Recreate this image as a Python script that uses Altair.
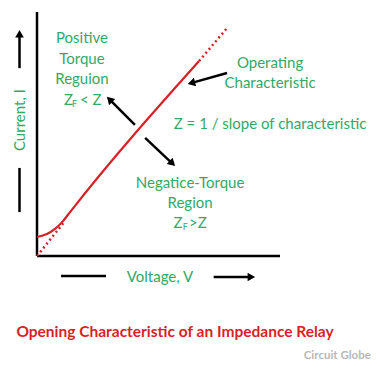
import altair as alt
import pandas as pd
import numpy as np

# ---- data (diagram units: origin at the axes corner, axes run 0..10) ----
# operating characteristic (solid red): curved start, then straight line
char_x = [0.0, 0.41, 0.74, 1.07, 1.36, 6.67]
char_y = [0.78, 0.90, 1.11, 1.43, 1.80, 7.99]
# dotted extensions of the straight line
dot_seg = ["low", "low", "top", "top"]
dot_x = [0.0, 1.15, 6.67, 7.82]
dot_y = [0.0, 1.43, 7.99, 9.34]

# axes
axis_x1 = [0, 0]
axis_y1 = [0, 0]
axis_x2 = [0, 10]
axis_y2 = [10, 0]

# arrows (tail -> tip)
arrow_x1 = [-0.72, 7.27, 7.82, 4.03, 4.45]
arrow_y1 = [7.70, -0.86, 7.50, 5.37, 4.84]
arrow_x2 = [-0.72, 8.97, 6.21, 2.88, 5.68]
arrow_y2 = [9.26, -0.86, 7.05, 6.52, 3.69]

# plain label lines
plain_x1 = [-0.72, 0.99]
plain_y1 = [3.61, -0.82]
plain_x2 = [-0.72, 2.84]
plain_y2 = [1.80, -0.82]

# centered green labels
lab_text = ["Positive", "Torque", "Reguion", "Operating", "Characteristic",
            "Z = 1 / slope of characteristic", "Negatice-Torque", "Region",
            "Voltage, V"]
lab_x = [1.85, 1.85, 1.85, 9.59, 9.59, 9.59, 6.30, 6.30, 5.06]
lab_y = [8.93, 8.07, 7.25, 7.91, 7.09, 5.41, 2.99, 2.17, -0.86]

# Z_F pieces
zf_text = ["Z", "F", "< Z", "Z", "F", ">Z"]
zf_x = [1.11, 1.44, 1.77, 5.62, 6.00, 6.26]
zf_y = [6.39, 6.24, 6.39, 1.35, 1.20, 1.35]
zf_size = [15, 9, 15, 15, 9, 15]

GREEN = "#33a867"
RED = "#d91f26"
FONT = "Lato"

PXX, PXY = 24.3, 24.4
XDOM = [-1.1934, 13.786]
YDOM = [-4.262, 10.164]

xs = alt.Scale(domain=XDOM, nice=False, zero=False)
ys = alt.Scale(domain=YDOM, nice=False, zero=False)
X = lambda f: alt.X(f, type="quantitative", scale=xs, axis=None)
Y = lambda f: alt.Y(f, type="quantitative", scale=ys, axis=None)

char_df = pd.DataFrame({"x": char_x, "y": char_y, "o": range(len(char_x))})
dot_df = pd.DataFrame({"x": dot_x, "y": dot_y, "seg": dot_seg})
axis_df = pd.DataFrame({"x": axis_x1, "y": axis_y1, "x2": axis_x2, "y2": axis_y2})
plain_df = pd.DataFrame({"x": plain_x1, "y": plain_y1, "x2": plain_x2, "y2": plain_y2})

ax1, ay1 = np.array(arrow_x1), np.array(arrow_y1)
ax2, ay2 = np.array(arrow_x2), np.array(arrow_y2)
dxp = (ax2 - ax1) * PXX
dyp = -(ay2 - ay1) * PXY
lenp = np.hypot(dxp, dyp)
ux, uy = dxp / lenp, dyp / lenp
ang = np.degrees(np.arctan2(dxp, -dyp)) % 360
# shaft stops inside head, head centred behind tip
shaft_x2 = ax2 - ux * 5 / PXX
shaft_y2 = ay2 + uy * 5 / PXY
head_x = ax2 - ux * 3.6 / PXX
head_y = ay2 + uy * 3.6 / PXY
shaft_df = pd.DataFrame({"x": ax1, "y": ay1, "x2": shaft_x2, "y2": shaft_y2})
head_df = pd.DataFrame({"x": head_x, "y": head_y, "a": ang})

lab_df = pd.DataFrame({"x": lab_x, "y": lab_y, "t": lab_text})
zf_df = pd.DataFrame({"x": zf_x, "y": zf_y, "t": zf_text, "s": zf_size})
cur_df = pd.DataFrame({"x": [-0.72], "y": [5.57], "t": ["Current, I"]})
title_df = pd.DataFrame({"x": [5.68], "y": [-3.11], "t": ["Opening Characteristic of an Impedance Relay"]})
wm_df = pd.DataFrame({"x": [13.74], "y": [-4.10], "t": ["Circuit Globe"]})

axes = alt.Chart(axis_df).mark_rule(color="black", strokeWidth=2.5).encode(
    x=X("x"), y=Y("y"), x2="x2", y2="y2")
plain = alt.Chart(plain_df).mark_rule(color="black", strokeWidth=2.5).encode(
    x=X("x"), y=Y("y"), x2="x2", y2="y2")
shafts = alt.Chart(shaft_df).mark_rule(color="black", strokeWidth=2.5).encode(
    x=X("x"), y=Y("y"), x2="x2", y2="y2")
heads = alt.Chart(head_df).mark_point(shape="triangle-up", filled=True, color="black",
                                      opacity=1, size=75).encode(
    x=X("x"), y=Y("y"), angle=alt.Angle("a:Q", scale=None))

solid = alt.Chart(char_df).mark_line(color=RED, strokeWidth=2.2, interpolate="monotone").encode(
    x=X("x"), y=Y("y"), order="o:Q")
dotted = alt.Chart(dot_df).mark_line(color=RED, strokeWidth=2.5, strokeDash=[2, 3]).encode(
    x=X("x"), y=Y("y"), detail="seg:N")

labels = alt.Chart(lab_df).mark_text(font=FONT, fontSize=15, color=GREEN, align="center",
                                     baseline="middle").encode(x=X("x"), y=Y("y"), text="t:N")
zf = alt.Chart(zf_df).mark_text(font=FONT, color=GREEN, align="left", baseline="middle").encode(
    x=X("x"), y=Y("y"), text="t:N", size=alt.Size("s:Q", scale=None))
cur = alt.Chart(cur_df).mark_text(font=FONT, fontSize=15, color=GREEN, align="center",
                                  baseline="middle", angle=270).encode(x=X("x"), y=Y("y"), text="t:N")
title = alt.Chart(title_df).mark_text(font=FONT, fontSize=15.5, fontWeight="bold", color=RED,
                                      align="center", baseline="middle").encode(
    x=X("x"), y=Y("y"), text="t:N")
wm = alt.Chart(wm_df).mark_text(font=FONT, fontSize=11.5, fontWeight="bold", color="#b8b8b8",
                                align="right", baseline="middle").encode(
    x=X("x"), y=Y("y"), text="t:N")

chart = alt.layer(axes, plain, shafts, heads, dotted, solid, labels, zf, cur, title, wm).properties(
    width=364, height=352, padding=0, autosize=alt.AutoSizeParams(type="none"),
    background="white"
).configure_view(stroke=None)

chart.save("out.html", embed_options={"renderer": "svg", "actions": False})
